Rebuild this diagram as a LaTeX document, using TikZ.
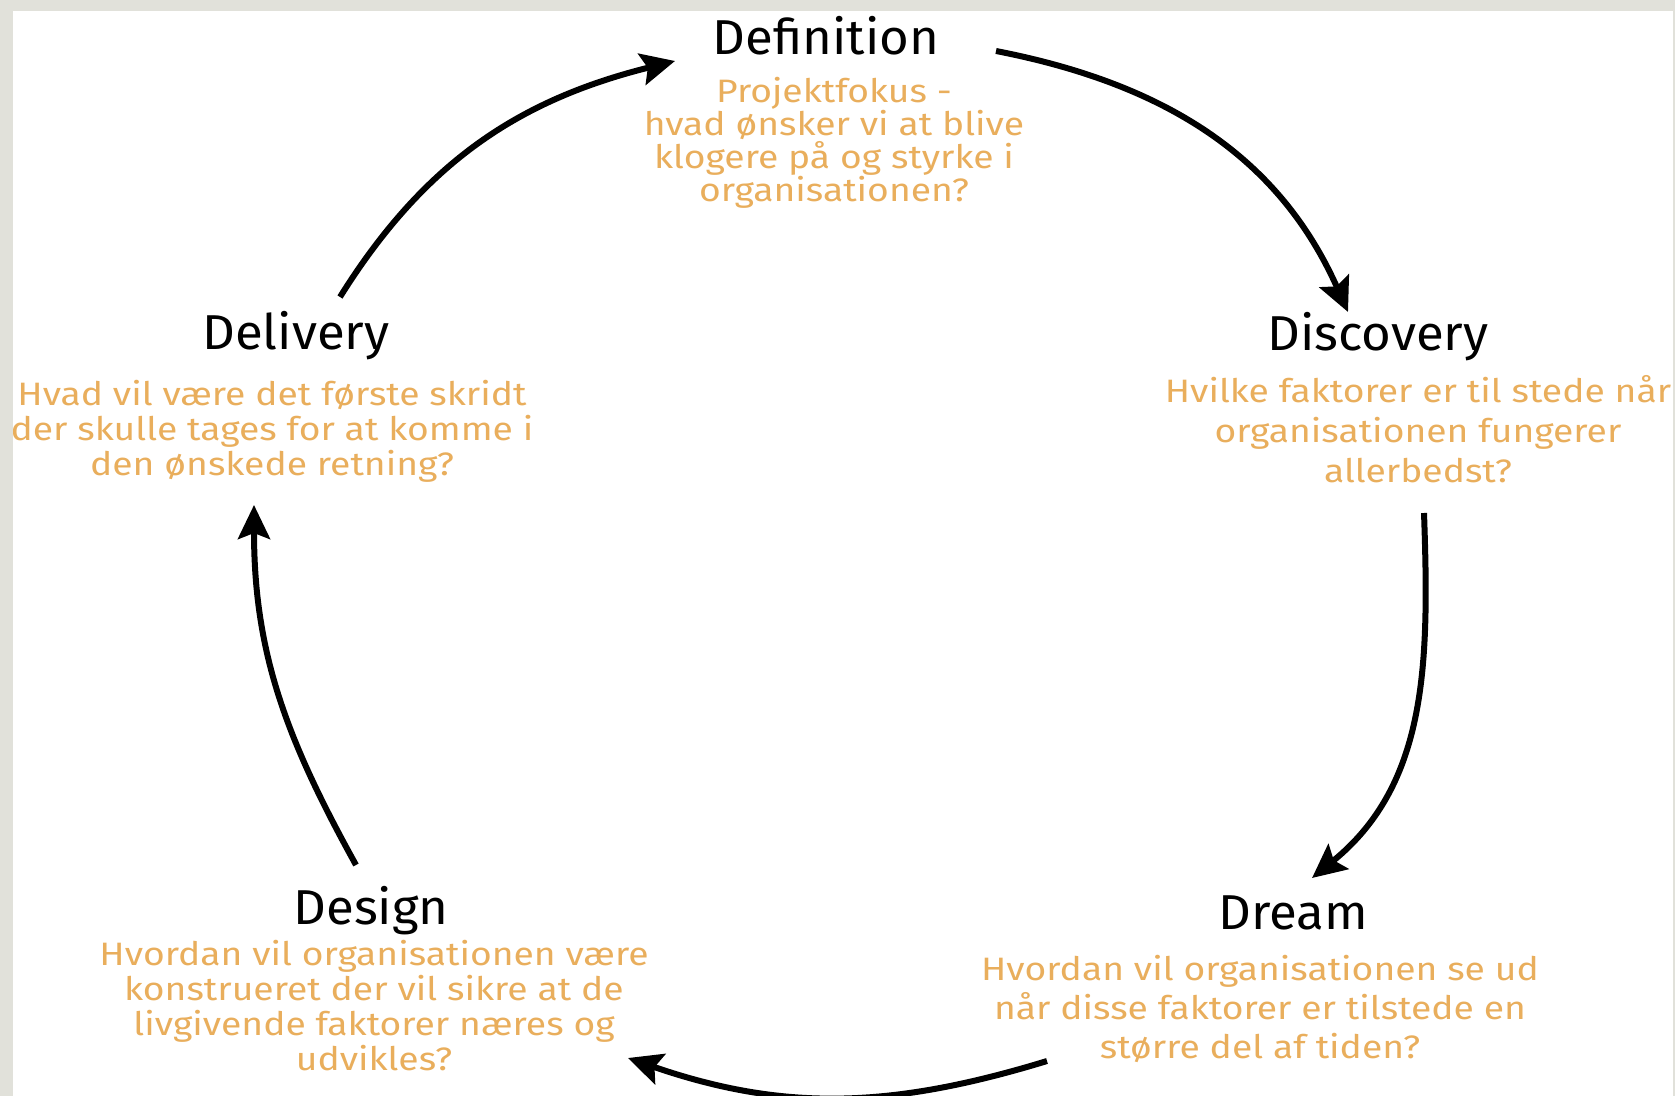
\documentclass[tikz,border=0pt]{standalone}
\usepackage{fontspec}
\setmainfont{Fira Sans}
\newfontfamily\qfont[FakeStretch=1.15]{Fira Sans}
\newfontfamily\tfont[FakeStretch=1.04]{Fira Sans}
\usetikzlibrary{arrows.meta}
\definecolor{bggray}{HTML}{E1E1DA}
\definecolor{qorange}{HTML}{E9AE5C}
\begin{document}
\begin{tikzpicture}[x=0.5pt,y=0.5pt,
  title/.style={font=\tfont\fontsize{24.5}{30}\selectfont, text=black, inner sep=0pt, anchor=base},
  question/.style={font=\qfont\fontsize{16.2}{#1}\selectfont, text=qorange, align=center, inner sep=0pt},
  question/.default=17.5pt,
  cyc/.style={line width=3pt, -{Stealth[length=17pt,width=16pt,inset=3pt]}}]
\fill[bggray] (0,0) rectangle (1675,-1096);
\useasboundingbox (0,0) rectangle (1675,-1096);
\fill[white] (13,-11) rectangle (1673,-1096);
\begin{scope}
\clip (13,-11) rectangle (1673,-1096);
% titles
\node[title] (tdef) at (826,-55) {Definition};
\node[title] (tdis) at (1378,-351) {Discovery};
\node[title] (tdre) at (1293,-929) {Dream};
\node[title] (tdes) at (371,-924) {Design};
\node[title] (tdel) at (296,-350) {Delivery};
% questions
\node[question=16.6pt] (qdef) at (834,-143) {Projektfokus -\\hvad ønsker vi at blive\\klogere på og styrke i\\organisationen?};
\node[question=20pt] (qdis) at (1418,-429) {Hvilke faktorer er til stede når\\organisationen fungerer\\allerbedst?};
\node[question=19.5pt] (qdre) at (1260,-1009) {Hvordan vil organisationen se ud\\når disse faktorer er tilstede en\\større del af tiden?};
\node[question] (qdes) at (374,-1006) {Hvordan vil organisationen være\\konstrueret der vil sikre at de\\livgivende faktorer næres og\\udvikles?};
\node[question] (qdel) at (272,-431) {Hvad vil være det første skridt\\der skulle tages for at komme i\\den ønskede retning?};
% arrow end points
\coordinate (a1s) at (340,-297);
\coordinate (a1e) at (675,-61);
\coordinate (a2s) at (996,-51);
\coordinate (a2e) at (1348,-312);
\coordinate (a3s) at (1424,-513);
\coordinate (a3e) at (1312,-878);
\coordinate (a4s) at (1047,-1061);
\coordinate (a4e) at (628,-1058);
\coordinate (a5s) at (356,-865);
\coordinate (a5e) at (254,-505);
\draw[cyc] (a1s) to[out=58,in=194] (a1e);
\draw[cyc] (a2s) to[out=-11,in=114] (a2e);
\draw[cyc] (a3s) to[out=-88,in=39] (a3e);
\draw[cyc] (a4s) to[out=197,in=-19] (a4e);
\draw[cyc] (a5s) to[out=119,in=270] (a5e);
\end{scope}
\end{tikzpicture}
\end{document}
